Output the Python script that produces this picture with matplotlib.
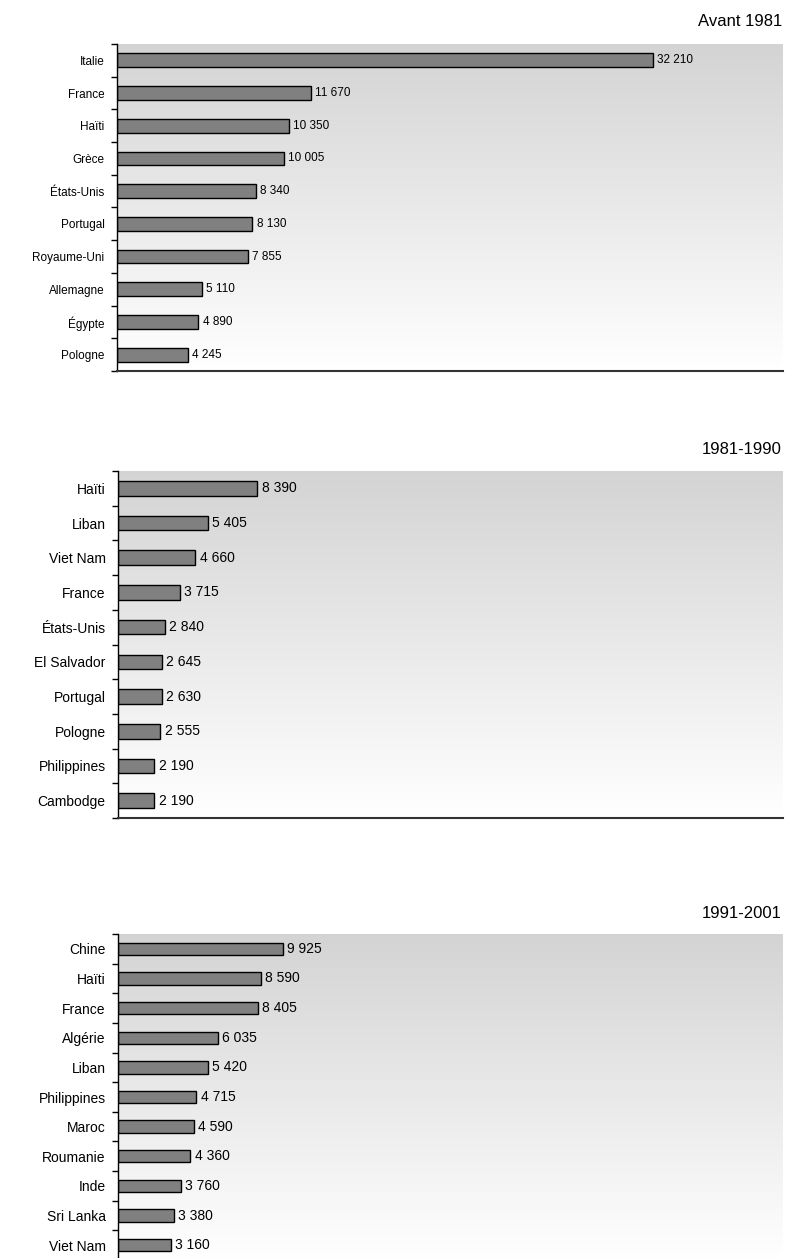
import numpy as np
import matplotlib
matplotlib.use("Agg")
import matplotlib.pyplot as plt
from matplotlib.ticker import FixedLocator, NullLocator

plt.rcParams['font.family'] = ['Liberation Sans', 'DejaVu Sans']

titles = ["Avant 1981", "1981-1990", "1991-2001"]

cats1 = ["Italie", "France", "Haïti", "Grèce", "États-Unis", "Portugal",
         "Royaume-Uni", "Allemagne", "Égypte", "Pologne"]
vals1 = [32210, 11670, 10350, 10005, 8340, 8130, 7855, 5110, 4890, 4245]

cats2 = ["Haïti", "Liban", "Viet Nam", "France", "États-Unis", "El Salvador",
         "Portugal", "Pologne", "Philippines", "Cambodge"]
vals2 = [8390, 5405, 4660, 3715, 2840, 2645, 2630, 2555, 2190, 2190]

cats3 = ["Chine", "Haïti", "France", "Algérie", "Liban", "Philippines",
         "Maroc", "Roumanie", "Inde", "Sri Lanka", "Viet Nam"]
vals3 = [9925, 8590, 8405, 6035, 5420, 4715, 4590, 4360, 3760, 3380, 3160]

W, H = 787, 1258
fig = plt.figure(figsize=(W / 100, H / 100), dpi=100)

def fmt(v):
    return f"{v:,}".replace(",", " ")

panels = [
    # (cats, vals, top_px, bottom_px, left_px, fontsize, title_y_px)
    (cats1, vals1, 44, 371, 117, 8.5, 22),
    (cats2, vals2, 471, 818, 118, 10, 450),
    (cats3, vals3, 934, 1260, 118, 10, 913),
]

grad = np.linspace(0.83, 1.0, 256).reshape(-1, 1)
grad = np.dstack([grad, grad, grad])

for (cats, vals, top, bot, left, fs, ty), title in zip(panels, titles):
    ax = fig.add_axes([left / W, 1 - bot / H, (783 - left) / W, (bot - top) / H])
    ax.imshow(grad, extent=[0, 1, 0, 1], transform=ax.transAxes,
              aspect='auto', zorder=0, origin='upper')
    n = len(cats)
    y = np.arange(n)
    ax.barh(y, vals, height=0.42, color="#808080", edgecolor="black",
            linewidth=1.0, zorder=2)
    ax.set_xlim(0, 40000)
    ax.set_ylim(n - 0.5, -0.5)
    ax.set_yticks(y)
    ax.set_yticklabels(cats, fontsize=fs)
    ax.tick_params(axis='y', which='major', length=0, pad=9)
    ax.yaxis.set_minor_locator(FixedLocator(np.arange(-0.5, n, 1.0)))
    ax.tick_params(axis='y', which='minor', length=4, width=1, direction='out')
    ax.xaxis.set_major_locator(NullLocator())
    for s in ['top', 'right']:
        ax.spines[s].set_visible(False)
    ax.spines['left'].set_linewidth(1.0)
    ax.spines['bottom'].set_linewidth(1.5)
    ax.spines['bottom'].set_color("#333333")
    for yi, v in zip(y, vals):
        ax.annotate(fmt(v), (v, yi), xytext=(3, 0), textcoords='offset points',
                    va='center', ha='left', fontsize=fs, zorder=3)
    fig.text(782 / W, 1 - ty / H, title, ha='right', va='center', fontsize=12)

fig.savefig("out.png", dpi=100)
